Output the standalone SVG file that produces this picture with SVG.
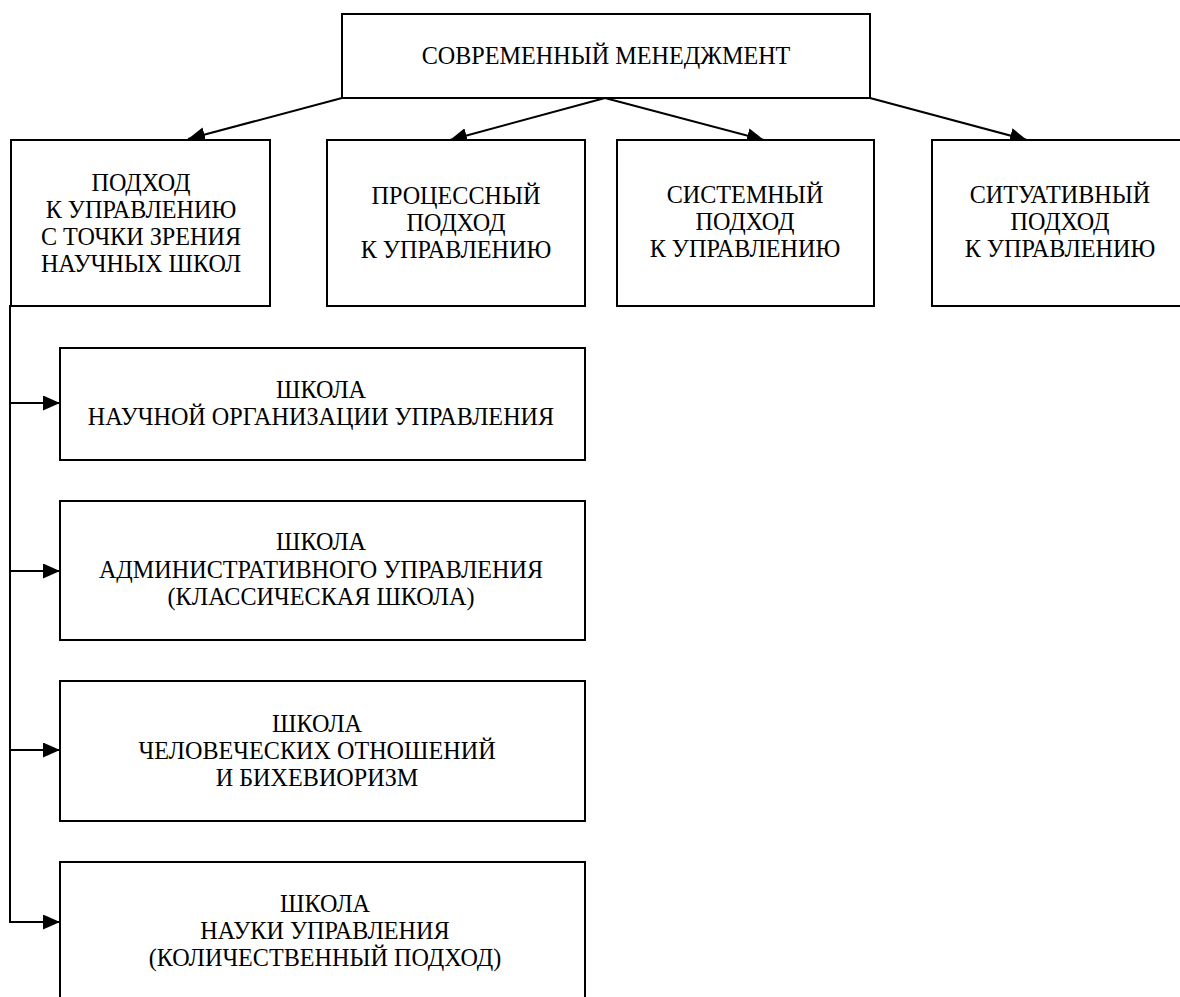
<svg xmlns="http://www.w3.org/2000/svg" width="1180" height="997" viewBox="0 0 1180 997">
  <style>
    .box { fill: #ffffff; stroke: #000000; stroke-width: 2; }
    .lbl { font-family: "Liberation Serif", "Times New Roman", serif; font-size: 26px; fill: #000000; text-anchor: middle; }
    .conn { fill: none; stroke: #000000; stroke-width: 2; }
  </style>
  <defs>
    <marker id="arrow" viewBox="0 0 17 15" refX="17" refY="7.5" markerWidth="17" markerHeight="15" markerUnits="userSpaceOnUse" orient="auto">
      <path d="M0,0 L17,7.5 L0,15 Z" fill="#000000"/>
    </marker>
  </defs>

  <rect width="1180" height="997" fill="#ffffff"/>

  <!-- connectors -->
  <g id="connectors">
    <line class="conn" x1="342" y1="98" x2="188" y2="139" marker-end="url(#arrow)"/>
    <line class="conn" x1="605" y1="98" x2="450" y2="140" marker-end="url(#arrow)"/>
    <line class="conn" x1="605" y1="98" x2="764" y2="140" marker-end="url(#arrow)"/>
    <line class="conn" x1="870" y1="98" x2="1027" y2="140" marker-end="url(#arrow)"/>
    <line class="conn" x1="10" y1="305" x2="10" y2="923"/>
    <line class="conn" x1="10" y1="403" x2="60" y2="403" marker-end="url(#arrow)"/>
    <line class="conn" x1="10" y1="571" x2="60" y2="571" marker-end="url(#arrow)"/>
    <line class="conn" x1="10" y1="750" x2="60" y2="750" marker-end="url(#arrow)"/>
    <line class="conn" x1="9" y1="922" x2="60" y2="922" marker-end="url(#arrow)"/>
  </g>

  <!-- root -->
  <g id="modern-management">
    <rect class="box" x="342" y="14" width="528" height="84"/>
    <g transform="translate(606 0) scale(0.93 1)">
      <text class="lbl" x="0" y="64">СОВРЕМЕННЫЙ МЕНЕДЖМЕНТ</text>
    </g>
  </g>

  <!-- approaches -->
  <g id="scientific-schools-approach">
    <rect class="box" x="11" y="140" width="259" height="166"/>
    <g transform="translate(141 0) scale(0.93 1)">
      <text class="lbl" x="0" y="191">ПОДХОД</text>
      <text class="lbl" x="0" y="218">К УПРАВЛЕНИЮ</text>
      <text class="lbl" x="0" y="245">С ТОЧКИ ЗРЕНИЯ</text>
      <text class="lbl" x="0" y="272">НАУЧНЫХ ШКОЛ</text>
    </g>
  </g>

  <g id="process-approach">
    <rect class="box" x="327" y="140" width="258" height="166"/>
    <g transform="translate(456 0) scale(0.93 1)">
      <text class="lbl" x="0" y="204">ПРОЦЕССНЫЙ</text>
      <text class="lbl" x="0" y="231">ПОДХОД</text>
      <text class="lbl" x="0" y="258">К УПРАВЛЕНИЮ</text>
    </g>
  </g>

  <g id="system-approach">
    <rect class="box" x="617" y="140" width="257" height="166"/>
    <g transform="translate(745 0) scale(0.93 1)">
      <text class="lbl" x="0" y="203">СИСТЕМНЫЙ</text>
      <text class="lbl" x="0" y="230">ПОДХОД</text>
      <text class="lbl" x="0" y="257">К УПРАВЛЕНИЮ</text>
    </g>
  </g>

  <g id="situational-approach">
    <rect class="box" x="932" y="140" width="258" height="166"/>
    <g transform="translate(1060 0) scale(0.93 1)">
      <text class="lbl" x="0" y="203">СИТУАТИВНЫЙ</text>
      <text class="lbl" x="0" y="230">ПОДХОД</text>
      <text class="lbl" x="0" y="257">К УПРАВЛЕНИЮ</text>
    </g>
  </g>

  <!-- schools -->
  <g id="school-scientific-management">
    <rect class="box" x="60" y="348" width="525" height="112"/>
    <g transform="translate(321 0) scale(0.93 1)">
      <text class="lbl" x="0" y="398">ШКОЛА</text>
      <text class="lbl" x="0" y="425">НАУЧНОЙ ОРГАНИЗАЦИИ УПРАВЛЕНИЯ</text>
    </g>
  </g>

  <g id="school-administrative">
    <rect class="box" x="60" y="501" width="525" height="139"/>
    <g transform="translate(321 0) scale(0.93 1)">
      <text class="lbl" x="0" y="550">ШКОЛА</text>
      <text class="lbl" x="0" y="578">АДМИНИСТРАТИВНОГО УПРАВЛЕНИЯ</text>
      <text class="lbl" x="0" y="605">(КЛАССИЧЕСКАЯ ШКОЛА)</text>
    </g>
  </g>

  <g id="school-human-relations">
    <rect class="box" x="60" y="681" width="525" height="140"/>
    <g transform="translate(317 0) scale(0.93 1)">
      <text class="lbl" x="0" y="732">ШКОЛА</text>
      <text class="lbl" x="0" y="759">ЧЕЛОВЕЧЕСКИХ ОТНОШЕНИЙ</text>
      <text class="lbl" x="0" y="786">И БИХЕВИОРИЗМ</text>
    </g>
  </g>

  <g id="school-management-science">
    <rect class="box" x="60" y="862" width="525" height="142"/>
    <g transform="translate(325 0) scale(0.93 1)">
      <text class="lbl" x="0" y="912">ШКОЛА</text>
      <text class="lbl" x="0" y="939">НАУКИ УПРАВЛЕНИЯ</text>
      <text class="lbl" x="0" y="966">(КОЛИЧЕСТВЕННЫЙ ПОДХОД)</text>
    </g>
  </g>
</svg>
